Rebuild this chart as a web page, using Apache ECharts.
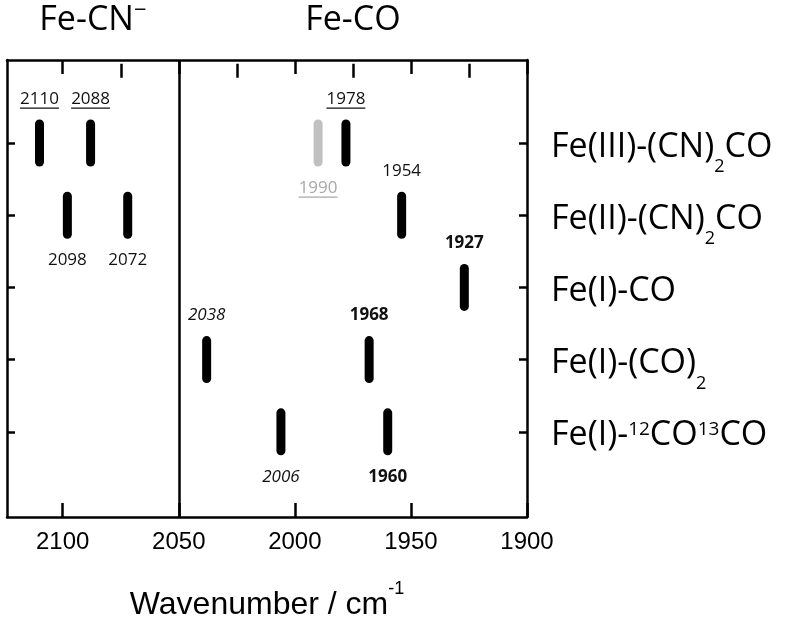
<!DOCTYPE html>
<html>
<head>
<meta charset="utf-8">
<script src="https://cdn.jsdelivr.net/npm/echarts@6/dist/echarts.min.js"></script>
<style>
  html, body { margin: 0; padding: 0; background: #fff; }
  #main { width: 789px; height: 620px; }
</style>
</head>
<body>
<div id="main"></div>
<script>
// species rows, top to bottom
const rowNames = ['Fe(III)-(CN)₂CO', 'Fe(II)-(CN)₂CO', 'Fe(I)-CO', 'Fe(I)-(CO)₂', 'Fe(I)-¹²CO¹³CO']
const rowValues = [1, 2, 3, 4, 5]

// peak positions (cm-1) and the row they belong to
const peakWavenumbers = [2110, 2088, 1990, 1978, 2098, 2072, 1954, 1927, 2038, 1968, 2006, 1960]
const peakRows = [1, 1, 1, 1, 2, 2, 2, 3, 4, 4, 5, 5]

// axis ticks
const majorTicks = [2100, 2050, 2000, 1950, 1900]
const minorTicks = [2075, 2025, 1975, 1925]
const dividerWavenumber = 2050
const regionTitles = ['Fe-CN{sup|−}', 'Fe-CO']

// how each peak label is drawn
const peakLook = ['under', 'under', 'grayUnder', 'under', 'plain', 'plain', 'plain', 'bold', 'italic', 'bold', 'italic', 'bold']
const labelBelow = [false, false, true, false, true, true, false, false, false, false, true, true]

const xMin = 1900
const xMax = 2124
const yMin = -0.15
const yMax = 6.18

const toRich = s => s
  .replace(/¹²/g, '{sup|12}')
  .replace(/¹³/g, '{sup|13}')
  .replace(/₂/g, '{sub|2}')

const measureCtx = document.createElement('canvas').getContext('2d')
const textWidth = (txt, font) => {
  measureCtx.font = font
  return measureCtx.measureText(txt).width
}

const renderItem = (params, api) => {
  const i = params.dataIndex
  const p = api.coord([api.value(0), api.value(1)])
  const look = peakLook[i]
  const gray = look === 'grayUnder'
  const txt = String(api.value(0))
  const fontWeight = look === 'bold' ? 'bold' : 'normal'
  const fontStyle = look === 'italic' ? 'italic' : 'normal'
  const ty = p[1] + (labelBelow[i] ? 45 : -44)
  const children = [
    {
      type: 'line',
      shape: { x1: p[0], y1: p[1] - 19, x2: p[0], y2: p[1] + 19 },
      style: { stroke: gray ? '#c0c0c0' : '#000', lineWidth: 9, lineCap: 'round' }
    },
    {
      type: 'text',
      x: p[0],
      y: ty,
      style: {
        text: txt,
        fill: gray ? '#a8a8a8' : '#111',
        fontSize: 17,
        fontFamily: 'Open Sans',
        fontWeight,
        fontStyle,
        align: 'center',
        verticalAlign: 'middle'
      }
    }
  ]
  if (look === 'under' || look === 'grayUnder') {
    const w = textWidth(txt, '17px "Open Sans"')
    children.push({
      type: 'line',
      shape: { x1: p[0] - w / 2, y1: ty + 9, x2: p[0] + w / 2, y2: ty + 9 },
      style: { stroke: gray ? '#a8a8a8' : '#111', lineWidth: 1.2 }
    })
  }
  return { type: 'group', children }
}

const chart = echarts.init(document.getElementById('main'))

const axisLine = { show: true, onZero: false, lineStyle: { color: '#000', width: 2.5 } }
const xCommon = { type: 'value', min: xMin, max: xMax, inverse: true, splitLine: { show: false } }

const option = {
  animation: false,
  backgroundColor: '#fff',
  grid: { left: 7, right: 262, top: 60, bottom: 103, containLabel: false, outerBoundsMode: 'none' },
  xAxis: [
    {
      ...xCommon,
      position: 'bottom',
      axisLine,
      axisTick: { inside: true, length: 14, lineStyle: { color: '#000', width: 2.5 }, customValues: majorTicks },
      axisLabel: {
        customValues: majorTicks,
        formatter: v => String(v),
        color: '#000',
        fontSize: 24,
        fontFamily: 'Liberation Sans',
        margin: 13
      },
      name: 'Wavenumber / cm{sup|-1}',
      nameLocation: 'middle',
      nameGap: 63,
      nameTextStyle: {
        color: '#000',
        fontSize: 32,
        fontFamily: 'Liberation Sans',
        rich: { sup: { fontSize: 18, fontFamily: 'Liberation Sans', color: '#000', padding: [0, 0, 32, 0] } }
      }
    },
    {
      ...xCommon,
      position: 'bottom',
      axisLine: { show: false },
      axisTick: { inside: true, length: 7, lineStyle: { color: '#000', width: 2.5 }, customValues: minorTicks },
      axisLabel: { show: false }
    },
    {
      ...xCommon,
      position: 'top',
      axisLine,
      axisTick: { inside: true, length: 14, lineStyle: { color: '#000', width: 2.5 }, customValues: majorTicks },
      axisLabel: { show: false }
    },
    {
      ...xCommon,
      position: 'top',
      axisLine: { show: false },
      axisTick: { inside: true, length: 7, lineStyle: { color: '#000', width: 2.5 }, customValues: minorTicks },
      axisLabel: { show: false }
    }
  ],
  yAxis: [
    {
      type: 'value',
      min: yMin,
      max: yMax,
      inverse: true,
      position: 'left',
      splitLine: { show: false },
      axisLine,
      axisTick: { inside: true, length: 8, lineStyle: { color: '#000', width: 2.5 }, customValues: rowValues },
      axisLabel: { show: false }
    },
    {
      type: 'value',
      min: yMin,
      max: yMax,
      inverse: true,
      position: 'right',
      splitLine: { show: false },
      axisLine,
      axisTick: { inside: true, length: 8, lineStyle: { color: '#000', width: 2.5 }, customValues: rowValues },
      axisLabel: {
        customValues: rowValues,
        margin: 24,
        align: 'left',
        padding: [8, 0, 0, 0],
        color: '#000',
        fontSize: 34,
        fontFamily: 'Open Sans',
        formatter: v => toRich(rowNames[Math.round(v) - 1] || ''),
        rich: {
          sub: { fontSize: 18, fontFamily: 'Open Sans', color: '#000', padding: [40, 0, 0, 0] },
          sup: { fontSize: 19, fontFamily: 'Open Sans', color: '#000', padding: [0, 0, 13, 0] }
        }
      }
    }
  ],
  series: [
    {
      type: 'custom',
      renderItem,
      data: peakWavenumbers.map((w, i) => [w, peakRows[i]]),
      markLine: {
        silent: true,
        symbol: 'none',
        label: { show: false },
        lineStyle: { color: '#000', type: 'solid', width: 2.5 },
        data: [{ xAxis: dividerWavenumber }]
      }
    }
  ]
}

chart.setOption(option)

// region titles centred over each part of the axis
const leftMid = chart.convertToPixel({ xAxisIndex: 0 }, (xMax + dividerWavenumber) / 2)
const rightMid = chart.convertToPixel({ xAxisIndex: 0 }, (dividerWavenumber + xMin) / 2)
chart.setOption({
  graphic: [leftMid, rightMid].map((cx, i) => ({
    type: 'text',
    x: cx,
    y: 20,
    style: {
      text: regionTitles[i],
      fill: '#000',
      fontSize: 34,
      fontFamily: 'Open Sans',
      align: 'center',
      verticalAlign: 'middle',
      rich: { sup: { fontSize: 22, fontFamily: 'Open Sans', fill: '#000', padding: [0, 0, 18, 0] } }
    }
  }))
})
</script>
</body>
</html>
